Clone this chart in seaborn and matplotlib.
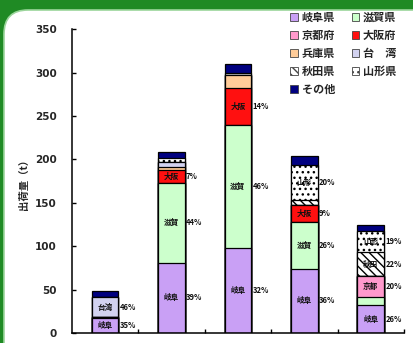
import numpy as np
import pandas as pd
import matplotlib
matplotlib.use("Agg")
import matplotlib.pyplot as plt
import seaborn as sns
from matplotlib.patches import Patch, FancyBboxPatch

# shipment destinations, stacked from the bottom up
groups = ["1", "2", "3", "4", "5"]
series = ["岐阜県", "滋賀県", "京都府", "大阪府", "兵庫県", "台　湾", "秋田県", "山形県", "その他"]
short = ["岐阜", "滋賀", "京都", "大阪", "兵庫", "台湾", "秋田", "山形", "その他"]

gifu = [17, 81, 98, 74, 32]
shiga = [2, 92, 142, 54, 9]
kyoto = [0, 0, 0, 0, 25]
osaka = [0, 15, 42, 19, 0]
hyogo = [0, 3, 15, 0, 0]
taiwan = [22, 6, 0, 0, 0]
akita = [0, 0, 0, 6, 27]
yamagata = [0, 5, 3, 41, 24]
other = [7, 6, 10, 10, 8]

yticks = [0, 50, 100, 150, 200, 250, 300, 350]

# (bar, series) pairs that carry a name/percent label
labelled = [(0, 0), (0, 5), (1, 0), (1, 1), (1, 3), (2, 0), (2, 1), (2, 3),
            (3, 0), (3, 1), (3, 3), (3, 7), (4, 0), (4, 2), (4, 6), (4, 7)]

colors = ["#C9A0F5", "#CCFFCC", "#FF99CC", "#FF1010", "#FFCC99",
          "#D2D2F0", "#FFFFFF", "#FFFFFF", "#000080"]
hatches = [None, None, None, None, None, None, "\\\\\\\\", "...", None]

values = np.array([gifu, shiga, kyoto, osaka, hyogo, taiwan, akita, yamagata, other], dtype=float)
cum = np.cumsum(values, axis=0)
totals = cum[-1]

jp = ["Noto Sans CJK JP", "DejaVu Sans"]
sns.set_style("white")
plt.rcParams["font.family"] = jp
plt.rcParams["hatch.linewidth"] = 1.0

fig = plt.figure(figsize=(4.13, 3.43), dpi=100)
fig.patch.set_facecolor("#1F8A24")
frame = FancyBboxPatch((4, -40), 460, 373, boxstyle="round,pad=0,rounding_size=24",
                       transform=None, facecolor="#FFFFFF", edgecolor="#9BD59B",
                       linewidth=1.2, figure=fig, zorder=-10)
fig.patches.append(frame)

ax = fig.add_axes([0.174, 0.029, 0.804, 0.886])
ax.set_facecolor("none")
ax.set_zorder(2)

# draw cumulative heights from the top layer down so each layer shows its own segment
for k in range(len(series) - 1, -1, -1):
    df = pd.DataFrame({"group": groups, "height": cum[k]})
    sns.barplot(data=df, x="group", y="height", order=groups, color=colors[k],
                saturation=1, width=0.4, edgecolor="black", linewidth=0.9,
                hatch=hatches[k], errorbar=None, ax=ax)

for b, s in labelled:
    h = values[s, b]
    y = cum[s, b] - h / 2
    ax.text(b, y, short[s], ha="center", va="center", fontsize=5.5,
            fontweight="bold", color="#111111")
    ax.text(b + 0.22, y, f"{h / totals[b] * 100:.0f}%", ha="left", va="center",
            fontsize=5.5, fontweight="bold", color="#111111")

ax.set_ylim(0, 350)
ax.set_xlim(-0.5, len(groups) - 0.5)
ax.set_yticks(yticks)
ax.set_yticklabels([str(v) for v in yticks], fontsize=7.5, fontweight="bold", family="DejaVu Sans")
ax.set_xticks(np.arange(len(groups)) + 0.5)
ax.set_xticklabels([""] * len(groups))
ax.tick_params(axis="both", direction="in", length=3, width=1, color="black")
ax.tick_params(axis="y", pad=11, left=True)
ax.tick_params(axis="x", bottom=True)
ax.set_xlabel("")
ax.set_ylabel("")
for side in ["top", "right"]:
    ax.spines[side].set_visible(False)
for side in ["left", "bottom"]:
    ax.spines[side].set_color("black")
    ax.spines[side].set_linewidth(1.1)

fig.text(0.058, 0.47, "出荷量（t）", rotation=90, ha="center", va="center",
         fontsize=7.5, fontweight="bold", zorder=5)

# legend laid out row by row in two columns
handles = [Patch(facecolor=colors[i], edgecolor="#444444", hatch=hatches[i], linewidth=0.6)
           for i in range(len(series))]
order = [0, 2, 4, 6, 8, 1, 3, 5, 7]
ax.legend([handles[i] for i in order], [series[i] for i in order], ncol=2,
          loc="upper left", bbox_to_anchor=(0.645, 1.075), frameon=False,
          prop={"weight": "bold", "size": 8},
          handlelength=0.7, handleheight=0.7, handletextpad=0.3,
          columnspacing=1.5, labelspacing=0.45, borderaxespad=0)

fig.savefig("out.png", dpi=100)
